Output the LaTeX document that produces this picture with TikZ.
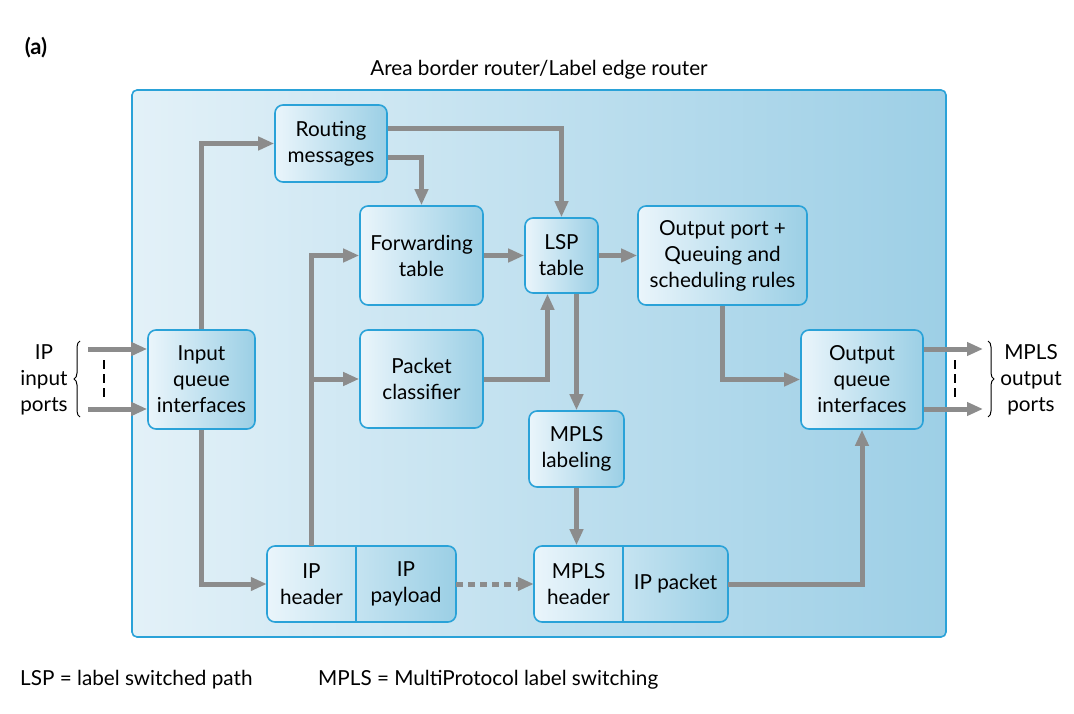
\documentclass[tikz,border=0pt]{standalone}
\usepackage{fontspec}
\setmainfont{Lato}
\usetikzlibrary{arrows.meta,decorations.pathreplacing}
\definecolor{edge}{HTML}{2AA2D8}
\definecolor{shadeL}{HTML}{EAF5FB}
\definecolor{shadeR}{HTML}{9BCFE5}
\definecolor{areaL}{HTML}{E3F1F8}
\definecolor{areaR}{HTML}{9DCFE6}
\definecolor{pipe}{HTML}{8C8C8C}
\begin{document}
\begin{tikzpicture}[x=1pt,y=-1pt,font=\fontsize{20.7}{26}\selectfont,
  blk/.style={draw=edge,line width=1.6pt,rounded corners=8pt,left color=shadeL,right color=shadeR,align=center,inner sep=0pt},
  txt/.style={align=center,inner sep=0pt},
  flow/.style={draw=pipe,line width=5pt,-{Triangle[length=16pt,width=13pt]}},
  dots/.style={flow,dash pattern=on 7pt off 5pt}]
\useasboundingbox (0,0) rectangle (1074,714);
% router area
\draw[edge,line width=1.6pt,rounded corners=5pt,left color=areaL,right color=areaR] (132,90) rectangle (946,637);
\node[txt] (ttl) at (539,70) {Area border router/Label edge router};
\node[txt,font=\fontsize{22}{26}\selectfont\bfseries] (tag) at (36,48) {(a)};
% blocks
\node[blk,minimum width=112,minimum height=77] (rout) at (331,143.5) {Routing\\messages};
\node[blk,minimum width=123,minimum height=99] (fwd) at (421.5,255.5) {Forwarding\\table};
\node[blk,minimum width=73,minimum height=75] (lsp) at (561.5,255.5) {LSP\\table};
\node[blk,minimum width=169,minimum height=99] (outport) at (722.5,255.5) {Output port +\\Queuing and\\scheduling rules};
\node[blk,minimum width=123,minimum height=98] (cls) at (421.5,379) {Packet\\classifier};
\node[blk,minimum width=107,minimum height=99] (inq) at (201.5,379.5) {Input\\queue\\interfaces};
\node[blk,minimum width=122,minimum height=99] (outq) at (862,379.5) {Output\\queue\\interfaces};
\node[blk,minimum width=95,minimum height=76] (lab) at (576.5,449) {MPLS\\labeling};
% packets
\node[blk,minimum width=189,minimum height=76] (ippkt) at (361.5,584) {};
\node[txt,minimum width=89,minimum height=76] (iphead) at (311.5,584) {IP\\header};
\node[txt,minimum width=100,minimum height=76] (ippay) at (406,584) {IP\\payload};
\draw[edge,line width=1.6pt] (iphead.north east) -- (iphead.south east);
\node[blk,minimum width=194,minimum height=76] (mpkt) at (631,584) {};
\node[txt,minimum width=89,minimum height=76] (mhead) at (578.5,584) {MPLS\\header};
\node[txt,minimum width=105,minimum height=76] (mpay) at (675.5,584) {IP packet};
\draw[edge,line width=1.6pt] (mhead.north east) -- (mhead.south east);
% connectors
\draw[flow] (inq.north) |- (rout.west);
\draw[flow] (inq.south) |- (iphead.west);
\draw[flow] ([yshift=15pt]rout.east) -| (lsp.north);
\draw[flow] ([yshift=-14pt]rout.east) -| (fwd.north);
\draw[flow] (fwd) -- (lsp);
\draw[flow] (lsp) -- (outport);
\draw[flow] (cls.east) -| ([xshift=-14pt]lsp.south);
\draw[flow] (lsp.south -| lab.north) -- (lab.north);
\draw[flow] (lab.south) -- (lab.south |- mpkt.north);
\draw[flow] (iphead.north) |- (fwd.west);
\draw[flow] (iphead.north |- cls.west) -- (cls.west);
\draw[dots] (ippay.east) -- (mhead.west);
\draw[flow] (mpay.east) -| (outq.south);
\draw[flow] (outport.south) |- (outq.west);
% ports
\coordinate (in1) at (88,349); \coordinate (in2) at (88,409);
\coordinate (out1) at (983,349); \coordinate (out2) at (983,409);
\draw[flow] (in1) -- (in1 -| inq.west);
\draw[flow] (in2) -- (in2 -| inq.west);
\draw[flow] (out1 -| outq.east) -- (out1);
\draw[flow] (out2 -| outq.east) -- (out2);
\draw[line width=1.2pt,dash pattern=on 9pt off 5pt] (104,360) -- (104,400);
\draw[line width=1.2pt,dash pattern=on 9pt off 5pt] (955,360) -- (955,400);
\draw[line width=1pt,decorate,decoration={brace,amplitude=6pt}] (80,417) -- (80,341);
\draw[line width=1pt,decorate,decoration={brace,amplitude=6pt}] (988,341) -- (988,417);
\node[txt] (inlbl) at (44,380) {IP\\input\\ports};
\node[txt] (outlbl) at (1031,380) {MPLS\\output\\ports};
% legend
\node[txt,anchor=west] (key1) at (20,680) {LSP = label switched path};
\node[txt,anchor=west] (key2) at (318,680) {MPLS = MultiProtocol label switching};
\end{tikzpicture}
\end{document}
